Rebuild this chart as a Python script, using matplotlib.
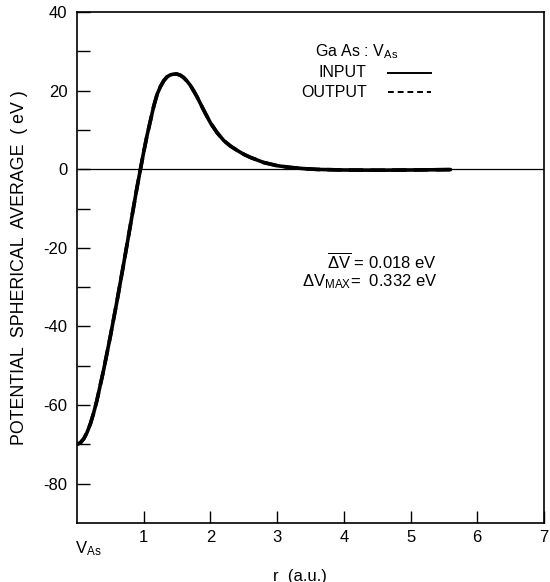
import matplotlib
matplotlib.use("Agg")
import matplotlib.pyplot as plt

plt.rcParams['font.family'] = ['Liberation Sans', 'DejaVu Sans']
plt.rcParams['mathtext.fontset'] = 'custom'
plt.rcParams['mathtext.rm'] = 'Liberation Sans'
plt.rcParams['mathtext.it'] = 'Liberation Sans'
plt.rcParams['mathtext.bf'] = 'Liberation Sans:bold'

# radius (a.u.)
r_input = [0.0, 0.05, 0.10, 0.15, 0.20, 0.25, 0.30, 0.40, 0.50, 0.60, 0.70,
           0.80, 0.90, 1.00, 1.05, 1.10, 1.15, 1.20, 1.25, 1.30, 1.35, 1.40,
           1.45, 1.50, 1.55, 1.60, 1.65, 1.70, 1.75, 1.80, 1.90, 2.00, 2.10,
           2.20, 2.30, 2.40, 2.50, 2.60, 2.80, 3.00, 3.20, 3.40, 3.60, 4.00,
           4.50, 5.00, 5.60]
v_input = [-70.0, -69.6, -68.6, -67.0, -64.8, -62.0, -58.7, -51.0, -42.5,
           -33.5, -24.0, -14.3, -4.6, 4.4, 8.6, 12.3, 16.0, 19.0, 21.0, 22.5,
           23.5, 24.0, 24.2, 24.2, 23.9, 23.3, 22.4, 21.3, 19.9, 18.4, 15.0,
           11.8, 9.3, 7.3, 5.9, 4.8, 3.8, 3.0, 1.7, 0.9, 0.45, 0.15, -0.05,
           -0.2, -0.25, -0.2, -0.1]
r_output = list(r_input)
v_output = list(v_input)

x_ticks = [1, 2, 3, 4, 5, 6, 7]
y_major = [-80, -60, -40, -20, 0, 20, 40]
y_minor = [-70, -50, -30, -10, 10, 30]

fig = plt.figure(figsize=(5.5, 5.82), dpi=100)
ax = fig.add_axes([0.140, 0.1014, 0.849, 0.878])

ax.axhline(0, color='black', lw=0.9, zorder=1)
ax.plot(r_input, v_input, color='black', lw=2.6, solid_capstyle='round',
        solid_joinstyle='round', zorder=3)
ax.plot(r_output, v_output, color='black', lw=2.6, ls=(0, (4, 2)), zorder=4)

ax.set_xlim(0, 7)
ax.set_ylim(-90, 40)
ax.set_xticks(x_ticks)
ax.set_xticklabels([str(t) for t in x_ticks])
ax.set_yticks(y_major)
ax.set_yticklabels([str(t) for t in y_major])
ax.set_yticks(y_minor, minor=True)
ax.tick_params(axis='both', which='both', direction='in', width=1.0,
               labelsize=12, colors='black')
ax.tick_params(axis='y', which='major', length=9, pad=7)
ax.tick_params(axis='y', which='minor', length=9)
ax.tick_params(axis='x', which='major', length=9, pad=5)
for s in ax.spines.values():
    s.set_linewidth(1.2)

ax.set_ylabel('POTENTIAL  SPHERICAL  AVERAGE  ( eV )', fontsize=12.8, labelpad=11)
fig.text(300 / 550, 1 - 576 / 582, 'r  (a.u.)', fontsize=12, ha='center', va='center')

ax.text(3.57, 30.0, r'Ga As : V$_{\mathregular{As}}$', fontsize=11.5, va='center', ha='left')
ax.text(4.34, 24.5, 'INPUT', fontsize=11.5, va='center', ha='right')
ax.text(4.34, 19.6, 'OUTPUT', fontsize=11.5, va='center', ha='right')
ax.plot([4.66, 5.31], [24.5, 24.5], color='black', lw=1.4)
ax.plot([4.66, 5.31], [19.6, 19.6], color='black', lw=1.4, ls=(0, (3, 2)))

ax.text(3.75, -23.7, r'$\overline{\Delta \mathregular{V}}$ = 0.018 eV', fontsize=12,
        va='center', ha='left')
ax.text(3.37, -28.6, r'$\Delta$V$_{\mathregular{MAX}}$=  0.332 eV', fontsize=12,
        va='center', ha='left')

fig.text(75 / 550, 1 - 549 / 582, r'V$_{\mathregular{As}}$', fontsize=12,
         va='center', ha='left')

fig.savefig('out.png', dpi=100)
